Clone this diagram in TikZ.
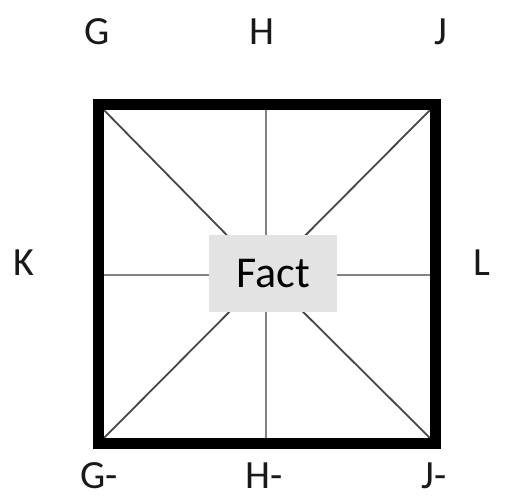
\documentclass[tikz,border=0pt]{standalone}
\usepackage{fontspec}
\setmainfont{Carlito}
\definecolor{factgray}{RGB}{227,227,227}
\definecolor{diag}{RGB}{70,70,70}
\definecolor{axisl}{RGB}{130,130,130}
\begin{document}
\begin{tikzpicture}[x=1pt,y=-1pt,
  lbl/.style={font=\fontsize{40}{44}\selectfont, inner sep=0pt, text=black!90},
  diagline/.style={draw=diag, line width=1.8pt},
  axline/.style={draw=axisl, line width=1.8pt},
  factbox/.style={fill=factgray, minimum width=128pt, minimum height=77pt, inner sep=0pt, font=\fontsize{44}{48}\selectfont}]
\useasboundingbox (0,0) rectangle (520,498);
% corners of the square (border centre line)
\coordinate (tl) at (98.5,104.5);
\coordinate (tr) at (435.5,104.5);
\coordinate (bl) at (98.5,443.5);
\coordinate (br) at (435.5,443.5);
\coordinate (tm) at (266,104.5);
\coordinate (bm) at (266,443.5);
\coordinate (lm) at (98.5,275);
\coordinate (rm) at (435.5,275);
\coordinate (c) at (266,275);
% spokes
\draw[diagline] (tl) -- (c);
\draw[diagline] (tr) -- (c);
\draw[diagline] (bl) -- (c);
\draw[diagline] (br) -- (c);
\draw[axline] (tm) -- (bm);
\draw[axline] (lm) -- (rm);
% centre box
\node[factbox] (fact) at (273,273.5) {Fact};
% border
\draw[line width=11pt, line join=miter] (tl) rectangle (br);
% labels
\node[lbl] (g) at (97,32) {G};
\node[lbl] (h) at (262,32) {H};
\node[lbl] (j) at (441,32) {J};
\node[lbl] (k) at (24,263) {K};
\node[lbl] (l) at (482,263) {L};
\node[lbl] (gm) at (99,476) {G-};
\node[lbl] (hm) at (264,476) {H-};
\node[lbl] (jm) at (434,476) {J-};
\end{tikzpicture}
\end{document}
